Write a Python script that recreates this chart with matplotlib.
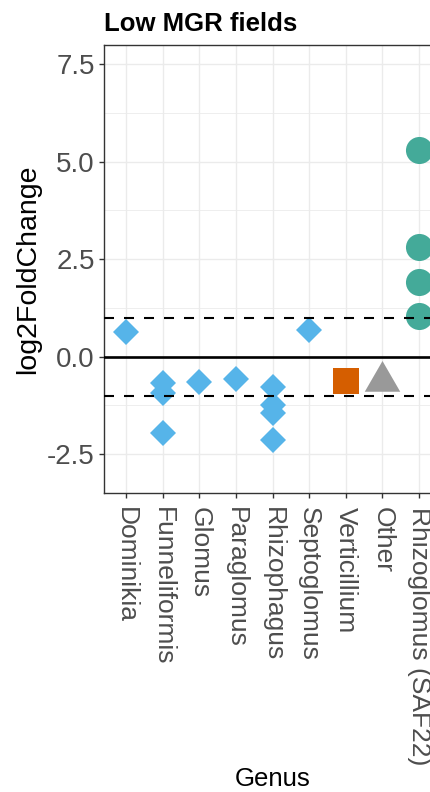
import matplotlib.pyplot as plt
from matplotlib.path import Path

plt.rcParams['font.family'] = ['Liberation Sans', 'DejaVu Sans']

# Genus order on the x axis
genera = ["Dominikia", "Funneliformis", "Glomus", "Paraglomus", "Rhizophagus",
          "Septoglomus", "Verticillium", "Other", "Rhizoglomus (SAF22)"]

# log2 fold changes per genus
dominikia = [0.63]
funneliformis = [-0.68, -0.94, -1.97]
glomus = [-0.66]
paraglomus = [-0.57]
rhizophagus = [-0.78, -1.25, -1.45, -2.14]
septoglomus = [0.67]
verticillium = [-0.64]
other = [-0.62]
rhizoglomus = [5.30, 2.80, 1.92, 1.05]

y_breaks = [-2.5, 0.0, 2.5, 5.0, 7.5]
y_minor = [-1.25, 1.25, 3.75, 6.25]
threshold = 1.0

# equilateral triangle centred on its circumcentre (like R's pch 17)
tri = Path([(0, 1), (-0.866, -0.5), (0.866, -0.5), (0, 1)],
           [Path.MOVETO, Path.LINETO, Path.LINETO, Path.CLOSEPOLY])

groups = [
    (dominikia, "#56B4E9", "D", 13.2),
    (funneliformis, "#56B4E9", "D", 13.2),
    (glomus, "#56B4E9", "D", 13.2),
    (paraglomus, "#56B4E9", "D", 13.2),
    (rhizophagus, "#56B4E9", "D", 13.2),
    (septoglomus, "#56B4E9", "D", 13.2),
    (verticillium, "#D55E00", "s", 19.0),
    (other, "#999999", tri, 29.5),
    (rhizoglomus, "#44AA99", "o", 19.5),
]

fig = plt.figure(figsize=(4.3, 7.92), dpi=100)
ax = fig.add_axes([0.2419, 0.378, 0.7837, 0.5652])

for i, (vals, col, mk, ms) in enumerate(groups, start=1):
    ax.plot([i] * len(vals), vals, linestyle="none", marker=mk, markersize=ms,
            color=col, markeredgewidth=0, zorder=3)

ax.axhline(0, color="black", linewidth=1.9, zorder=4)
for t in (threshold, -threshold):
    ax.axhline(t, color="black", linewidth=1.5, linestyle=(0, (4.8, 4.8)), zorder=4)

ax.set_xlim(0.4, len(genera) + 0.6)
ax.set_ylim(-3.49, 7.99)
ax.set_xticks(range(1, len(genera) + 1))
ax.set_xticklabels(genera, rotation=-90, va="top", ha="center")
ax.set_yticks(y_breaks)
ax.set_yticklabels([f"{v:.1f}" for v in y_breaks])
ax.set_yticks(y_minor, minor=True)

ax.grid(which="major", color="#EBEBEB", linewidth=1.0, zorder=0)
ax.grid(which="minor", axis="y", color="#EBEBEB", linewidth=0.6, zorder=0)
ax.set_axisbelow(True)
ax.tick_params(which="major", length=3.6, width=1.0, color="#333333",
               labelcolor="#4D4D4D", labelsize=19, pad=3)
ax.tick_params(axis="x", pad=7)
ax.tick_params(axis="y", labelsize=20)
ax.tick_params(which="minor", length=0)
for s in ax.spines.values():
    s.set_color("#333333")
    s.set_linewidth(1.0)

ax.set_xlabel("Genus", fontsize=18.5, va="center")
ax.xaxis.set_label_coords(0.5, -0.64)
ax.set_ylabel("log2FoldChange", fontsize=20.5, labelpad=4)
ax.set_title("Low MGR fields", fontsize=18.5, fontweight="bold", loc="left", pad=10)

fig.savefig("out.png", dpi=100)
